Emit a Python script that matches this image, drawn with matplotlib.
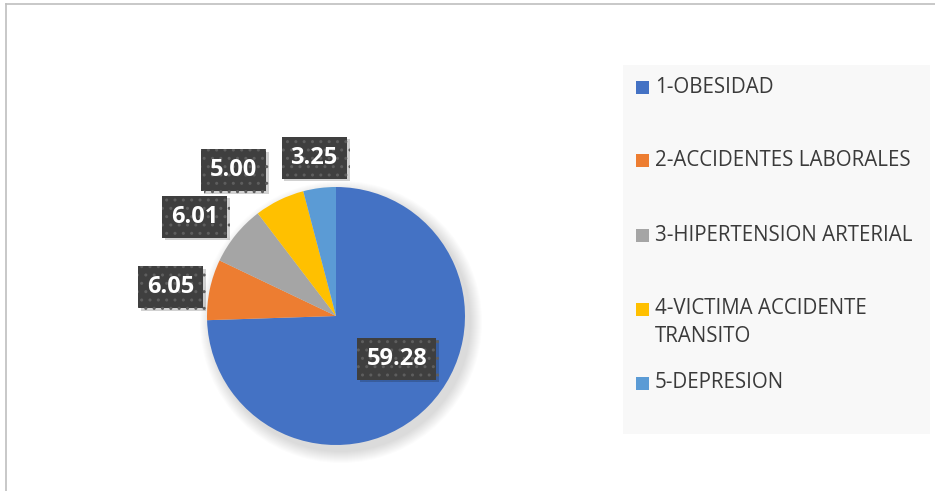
import matplotlib
matplotlib.use("Agg")
from matplotlib import pyplot as plt
from matplotlib import patches
from matplotlib import patheffects
import numpy as np

# data
labels = ["1-OBESIDAD", "2-ACCIDENTES LABORALES", "3-HIPERTENSION ARTERIAL",
          "4-VICTIMA ACCIDENTE\nTRANSITO", "5-DEPRESION"]
values = [59.28, 6.05, 6.01, 5.00, 3.25]
colors = ["#4472C4", "#ED7D31", "#A5A5A5", "#FFC000", "#5B9BD5"]

# layout (pixel units, y from bottom)
W, H = 935, 491
cx, cy, R = 336, 175, 129
# label position: (angle offset from slice middle in deg, radius factor)
lab_pos = [(9, 0.576), (2, 1.30), (4, 1.34), (9, 1.38), (0.5, 1.24)]
leg_y = [404, 331, 256, 182, 108]

fig = plt.figure(figsize=(W / 100, H / 100), dpi=100)
ax = fig.add_axes([0, 0, 1, 1])

# chart border (top and left visible)
ax.plot([6, W], [H - 4, H - 4], color="#BFBFBF", lw=1.2)
ax.plot([6, 6], [0, H - 4], color="#BFBFBF", lw=1.2)

# soft shadow under pie
for i in range(12):
    ax.add_patch(patches.Circle((cx + 5, cy - 6), R + 12 - i, color="#000000",
                                alpha=0.012, lw=0))

wedges, _ = ax.pie(values, colors=colors, startangle=90, counterclock=False,
                   center=(cx, cy), radius=R, frame=True,
                   wedgeprops=dict(linewidth=0))
ax.set_xlim(0, W)
ax.set_ylim(0, H)
ax.set_aspect("equal")
ax.axis("off")

for w, v, (da, rf) in zip(wedges, values, lab_pos):
    mid = np.deg2rad((w.theta1 + w.theta2) / 2 + da)
    x = cx + rf * R * np.cos(mid)
    y = cy + rf * R * np.sin(mid)
    t = ax.text(x, y, "%.2f" % v, ha="center", va="center", color="white",
                fontsize=17, fontweight="bold", family="Open Sans",
                bbox=dict(boxstyle="square,pad=0.38", fc="#3F3F3F",
                          ec="#5E5E5E", lw=0, hatch=".."))
    t.get_bbox_patch().set_path_effects([
        patheffects.SimplePatchShadow(offset=(2, -2), shadow_rgbFace="#000000", alpha=0.18),
        patheffects.Normal()])

# legend panel
ax.add_patch(patches.Rectangle((623, H - 434), 307, 369, fc="#F8F8F8", ec="none"))
for lab, c, y in zip(labels, colors, leg_y):
    ax.add_patch(patches.Rectangle((636, y - 7), 13, 13, fc=c, ec="none"))
    for k, line in enumerate(lab.split("\n")):
        ax.text(655, y - 28 * k, line, ha="left", va="center", fontsize=14.8,
                family="Open Sans", color="#3A3A3A")

fig.savefig("out.png", dpi=100)
